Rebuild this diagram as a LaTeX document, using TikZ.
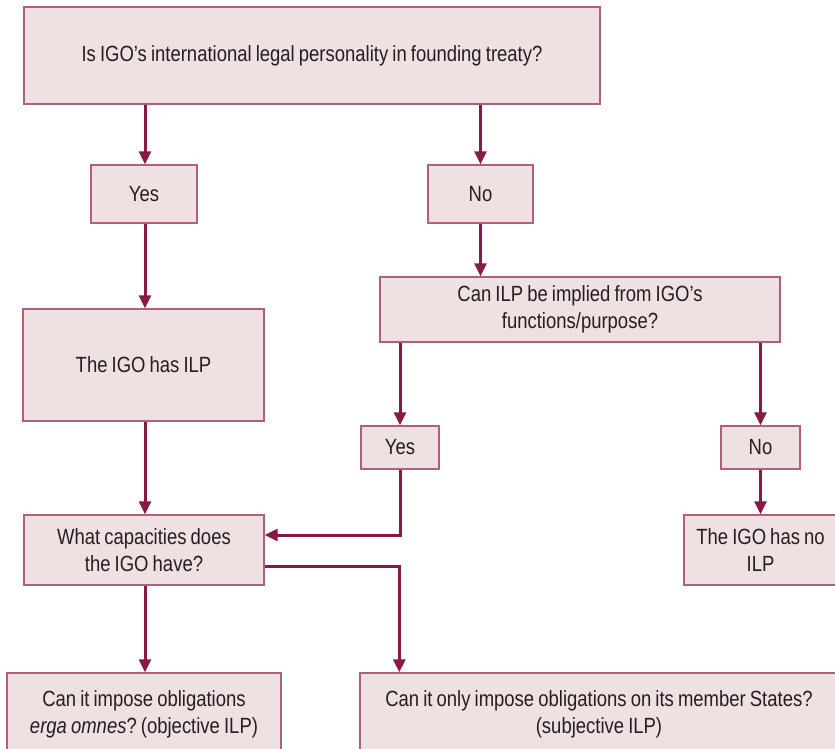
\documentclass[tikz,border=0pt]{standalone}
\usepackage{fontspec}
\setmainfont{Liberation Sans}[FakeStretch=0.84,WordSpace=0.8]
\usetikzlibrary{arrows.meta,calc}
\definecolor{boxfill}{HTML}{EFE0E2}
\definecolor{boxline}{HTML}{B0607A}
\definecolor{arrcol}{HTML}{8A1845}
\definecolor{txt}{HTML}{231F20}
\frenchspacing
\begin{document}
\begin{tikzpicture}[x=1pt,y=1pt,
  box/.style={draw=boxline,fill=boxfill,line width=1.4pt,inner sep=2pt,align=center,text=txt,
    font=\fontsize{22}{27}\selectfont},
  arr/.style={draw=arrcol,line width=3pt,-{Triangle[length=13pt,width=12pt]}}]
\useasboundingbox (0,0) rectangle (835,-749);
\node[box,minimum width=576pt,minimum height=97pt] (top) at (312,-55.5) {Is IGO’s international legal personality in founding treaty?};
\node[box,minimum width=106pt,minimum height=58pt] (yes1) at (144,-194) {Yes};
\node[box,minimum width=105pt,minimum height=58pt] (no1) at (480.5,-194) {No};
\node[box,minimum width=241pt,minimum height=112pt] (ilp) at (143.5,-365) {The IGO has ILP};
\node[box,minimum width=400pt,minimum height=65pt] (imp) at (580,-309.5) {Can ILP be implied from IGO’s\\functions/purpose?};
\node[box,minimum width=78pt,minimum height=43pt] (yes2) at (400,-447.5) {Yes};
\node[box,minimum width=79pt,minimum height=43pt] (no2) at (760.5,-447.5) {No};
\node[box,minimum width=240pt,minimum height=70pt] (cap) at (144,-550) {What capacities does\\the IGO have?};
\node[box,minimum width=153pt,minimum height=70pt] (noilp) at (760.5,-550) {The IGO has no\\ILP};
\node[box,minimum width=274pt,minimum height=82pt] (bl) at (144,-714) {Can it impose obligations\\\textit{erga omnes}? (objective ILP)};
\node[box,minimum width=478pt,minimum height=82pt] (br) at (599,-714) {Can it only impose obligations on its member States?\\(subjective ILP)};
\draw[arr] (top.south -| 145,0) -- (yes1.north -| 145,0);
\draw[arr] (top.south -| no1.north) -- (no1.north);
\draw[arr] (yes1.south -| 145,0) -- (ilp.north -| 145,0);
\draw[arr] (no1.south) -- (imp.north -| no1.south);
\draw[arr] (imp.south -| yes2.north) -- (yes2.north);
\draw[arr] (imp.south -| no2.north) -- (no2.north);
\draw[arr] (ilp.south -| 145,0) -- (cap.north -| 145,0);
\draw[arr] (yes2.south) |- ([yshift=15pt]cap.east);
\draw[arr] (no2.south) -- (noilp.north -| no2.south);
\draw[arr] (cap.south -| 145,0) -- (bl.north -| 145,0);
\draw[arr] ([yshift=-16pt]cap.east) -| ([xshift=40pt]br.north west);
\end{tikzpicture}
\end{document}
